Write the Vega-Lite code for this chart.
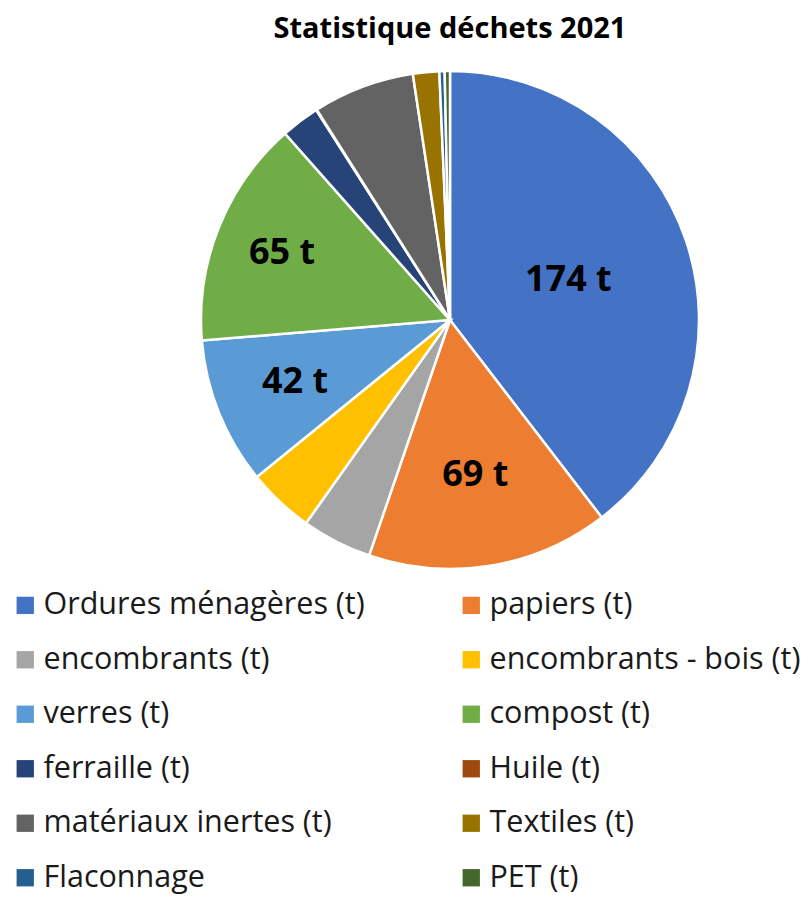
{
  "$schema": "https://vega.github.io/schema/vega-lite/v6.json",
  "width": 720,
  "height": 540,
  "autosize": {"type": "none"},
  "padding": {"left": 90, "top": 50, "right": 0, "bottom": 308},
  "background": "white",
  "title": {"text": "Statistique déchets 2021", "font": "Open Sans", "fontSize": 29, "fontWeight": "bold", "color": "#000000", "anchor": "middle", "offset": 6},
  "data": {"values": [
    {"idx": 1, "cat": "Ordures ménagères (t)", "tonnes": 174, "label": "174 t"},
    {"idx": 2, "cat": "papiers (t)", "tonnes": 69, "label": "69 t"},
    {"idx": 3, "cat": "encombrants (t)", "tonnes": 20, "label": ""},
    {"idx": 4, "cat": "encombrants - bois (t)", "tonnes": 19, "label": ""},
    {"idx": 5, "cat": "verres (t)", "tonnes": 42, "label": "42 t"},
    {"idx": 6, "cat": "compost (t)", "tonnes": 65, "label": "65 t"},
    {"idx": 7, "cat": "ferraille (t)", "tonnes": 11, "label": ""},
    {"idx": 8, "cat": "Huile (t)", "tonnes": 0.2, "label": ""},
    {"idx": 9, "cat": "matériaux inertes (t)", "tonnes": 29, "label": ""},
    {"idx": 10, "cat": "Textiles (t)", "tonnes": 7.5, "label": ""},
    {"idx": 11, "cat": "Flaconnage", "tonnes": 1.5, "label": ""},
    {"idx": 12, "cat": "PET (t)", "tonnes": 1.5, "label": ""}
  ]},
  "encoding": {
    "theta": {"field": "tonnes", "type": "quantitative", "stack": true},
    "order": {"field": "idx", "type": "quantitative"}
  },
  "layer": [
    {
      "mark": {"type": "arc", "outerRadius": 249, "stroke": "white", "strokeWidth": 2.5},
      "encoding": {
        "color": {
          "field": "cat", "type": "nominal",
          "scale": {
            "domain": ["Ordures ménagères (t)", "encombrants (t)", "verres (t)", "ferraille (t)", "matériaux inertes (t)", "Flaconnage", "papiers (t)", "encombrants - bois (t)", "compost (t)", "Huile (t)", "Textiles (t)", "PET (t)"],
            "range": ["#4472C4", "#A5A5A5", "#5B9BD5", "#264478", "#636363", "#255E91", "#ED7D31", "#FFC000", "#70AD47", "#9E480E", "#997300", "#43682B"]
          },
          "legend": {
            "title": null,
            "orient": "none",
            "legendX": -80,
            "legendY": 540,
            "columns": 2,
            "columnPadding": 91,
            "rowPadding": 23.5,
            "symbolType": "square",
            "symbolSize": 300,
            "symbolStrokeWidth": 0,
            "labelFont": "Open Sans",
            "labelFontSize": 30.5,
            "labelColor": "#1a1a1a",
            "labelOffset": 3,
            "labelLimit": 500
          }
        }
      }
    },
    {
      "mark": {"type": "text", "radius": 125, "font": "Open Sans", "fontSize": 36, "fontWeight": "bold", "fill": "#000000"},
      "encoding": {"text": {"condition": {"test": "datum.cat === 'Ordures ménagères (t)'", "field": "label"}, "value": ""}}
    },
    {
      "mark": {"type": "text", "radius": 157, "font": "Open Sans", "fontSize": 36, "fontWeight": "bold", "fill": "#000000"},
      "encoding": {"text": {"condition": {"test": "datum.cat === 'papiers (t)'", "field": "label"}, "value": ""}}
    },
    {
      "mark": {"type": "text", "radius": 167, "font": "Open Sans", "fontSize": 36, "fontWeight": "bold", "fill": "#000000"},
      "encoding": {"text": {"condition": {"test": "datum.cat === 'verres (t)'", "field": "label"}, "value": ""}}
    },
    {
      "mark": {"type": "text", "radius": 181, "font": "Open Sans", "fontSize": 36, "fontWeight": "bold", "fill": "#000000"},
      "encoding": {"text": {"condition": {"test": "datum.cat === 'compost (t)'", "field": "label"}, "value": ""}}
    }
  ],
  "config": {"view": {"stroke": null}}
}
